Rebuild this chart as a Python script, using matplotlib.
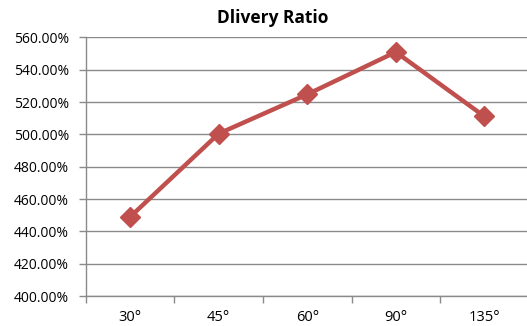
import matplotlib
matplotlib.use("Agg")
import matplotlib.pyplot as plt
from matplotlib.ticker import FuncFormatter, FixedLocator, NullFormatter

categories = ["30°", "45°", "60°", "90°", "135°"]
ratio = [449.0, 500.5, 524.8, 551.0, 511.2]
y_ticks = [400, 420, 440, 460, 480, 500, 520, 540, 560]

plt.rcParams["font.family"] = ["Open Sans", "DejaVu Sans"]

fig = plt.figure(figsize=(5.27, 3.26), dpi=100)
ax = fig.add_axes([0.163, 0.092, 0.84, 0.793])

grid_color = "#8a8a8a"
x = [i + 0.5 for i in range(len(categories))]

ax.set_ylim(400, 560)
ax.set_xlim(0, len(categories))
ax.yaxis.set_major_locator(FixedLocator(y_ticks))
ax.yaxis.set_major_formatter(FuncFormatter(lambda v, p: f"{v:.2f}%"))
ax.grid(axis="y", color=grid_color, linewidth=1.0)
ax.set_axisbelow(True)

ax.plot(x, ratio, color="#C0504D", linewidth=3.2, marker="D",
        markersize=10, markeredgecolor="#C0504D", zorder=3, clip_on=False)

# category boundaries as ticks, labels centred between them
ax.xaxis.set_major_locator(FixedLocator(list(range(len(categories) + 1))))
ax.xaxis.set_major_formatter(NullFormatter())
ax.xaxis.set_minor_locator(FixedLocator(x))
ax.set_xticklabels(categories, minor=True)
ax.tick_params(axis="x", which="major", direction="out", length=5,
               color=grid_color, width=1)
ax.tick_params(axis="x", which="minor", length=0, pad=10, labelsize=10.5)
ax.tick_params(axis="y", direction="out", length=5, color=grid_color,
               width=1, labelsize=10, pad=7)

for side in ("top", "right"):
    ax.spines[side].set_visible(False)
for side in ("left", "bottom"):
    ax.spines[side].set_color(grid_color)
    ax.spines[side].set_linewidth(1.0)

fig.text(0.518, 0.945, "Dlivery Ratio", fontsize=12.5, fontweight="bold",
         ha="center", va="center")

fig.savefig("out.png", dpi=100)
